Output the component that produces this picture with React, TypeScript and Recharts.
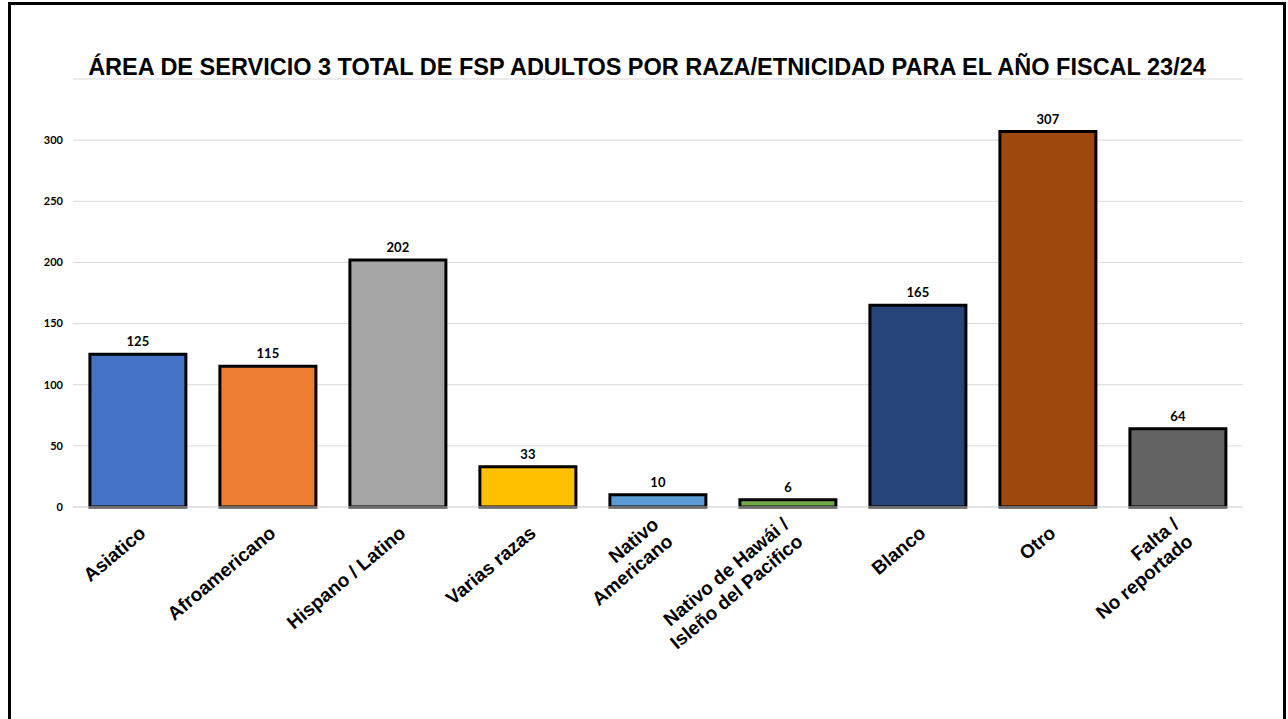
import { BarChart, Bar, XAxis, YAxis, CartesianGrid, Cell, LabelList } from 'recharts';

const categories = [
  'Asiatico',
  'Afroamericano',
  'Hispano / Latino',
  'Varias razas',
  'Nativo\nAmericano',
  'Nativo de Hawái /\nIsleño del Pacifico',
  'Blanco',
  'Otro',
  'Falta /\nNo reportado',
];
const totals = [125, 115, 202, 33, 10, 6, 165, 307, 64];
const barColors = ['#4472C4', '#ED7D31', '#A5A5A5', '#FFC000', '#5B9BD5', '#70AD47', '#264478', '#9E480E', '#636363'];
const yTicks = [0, 50, 100, 150, 200, 250, 300];

const data = categories.map((name, i) => ({ name, total: totals[i] }));

const TITLE = 'ÁREA DE SERVICIO 3 TOTAL DE FSP ADULTOS POR RAZA/ETNICIDAD PARA EL AÑO FISCAL 23/24';

// category labels: rotated, right-aligned, multi-line block centred on the tick
function AngledTick({ x, y, payload }: { x?: number; y?: number; payload?: { value: string } }) {
  const lines = String(payload?.value ?? '').split('\n');
  const n = lines.length;
  return (
    <g transform={`translate(${(x ?? 0) + 9},${(y ?? 0) + 20}) rotate(-40)`}>
      {lines.map((line, i) => (
        <text
          key={i}
          x={0}
          y={(i - (n - 1) / 2) * 22}
          textAnchor="end"
          fontFamily="'Liberation Sans', Arial, sans-serif"
          fontWeight="bold"
          fontSize={19}
          fill="#000"
        >
          {line}
        </text>
      ))}
    </g>
  );
}

export default function App() {
  return (
    <div style={{ position: 'absolute', left: 0, top: 0, width: 1288, height: 719, overflow: 'hidden', background: '#fff' }}>
      <div
        style={{
          position: 'absolute',
          left: 8,
          top: 2,
          width: 1272,
          height: 740,
          border: '3px solid #000',
        }}
      />
      <div
        style={{
          position: 'absolute',
          left: 9,
          width: 1276,
          top: 54,
          textAlign: 'center',
          fontFamily: "'Liberation Sans', Arial, sans-serif",
          fontWeight: 'bold',
          fontSize: 23.5,
          color: '#000',
          whiteSpace: 'nowrap',
        }}
      >
        {TITLE}
      </div>
      <div style={{ position: 'absolute', left: 0, top: 0 }}>
        <BarChart
          width={1288}
          height={719}
          data={data}
          margin={{ top: 79, right: 45, bottom: 0, left: 0 }}
          barCategoryGap="13%"
        >
          <CartesianGrid vertical={false} stroke="#D9D9D9" />
          <XAxis
            dataKey="name"
            interval={0}
            tickLine={false}
            axisLine={{ stroke: '#D9D9D9' }}
            tick={<AngledTick />}
            height={212}
          />
          <YAxis
            width={73}
            domain={[0, 350]}
            ticks={yTicks}
            tickLine={false}
            axisLine={false}
            tickSize={0}
            tickMargin={10}
            tick={{ fontFamily: 'Lato, sans-serif', fontWeight: 'bold', fontSize: 11, fill: '#000' }}
          />
          <Bar dataKey="total" stroke="#000" strokeWidth={3} isAnimationActive={false}>
            {data.map((d, i) => (
              <Cell key={d.name} fill={barColors[i]} />
            ))}
            <LabelList
              dataKey="total"
              position="top"
              offset={8}
              style={{ fontFamily: 'Lato, sans-serif', fontWeight: 'bold', fontSize: 13, fill: '#000' }}
            />
          </Bar>
        </BarChart>
      </div>
    </div>
  );
}
